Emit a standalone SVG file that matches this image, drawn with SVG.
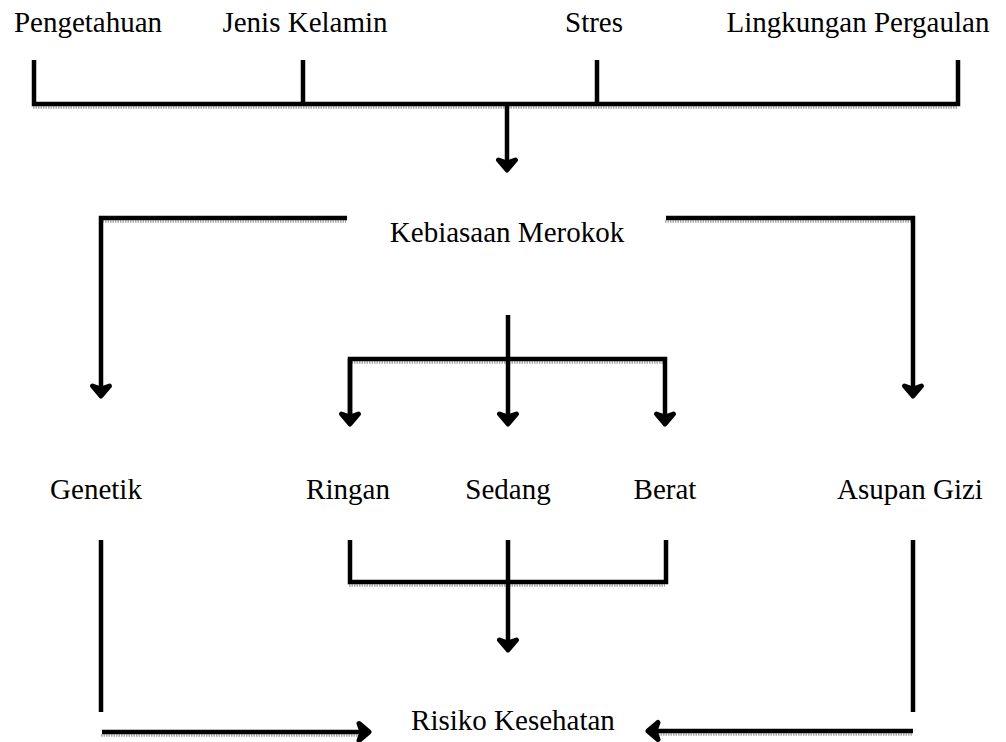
<svg xmlns="http://www.w3.org/2000/svg" width="1006" height="742" viewBox="0 0 1006 742">
<style>
text{font-family:"Liberation Serif","Times New Roman",serif;font-size:29px;fill:#000;text-anchor:middle}
.c{fill:none;stroke:#000;stroke-width:4.5;stroke-linejoin:miter}
.s{fill:none;stroke:#a8a8a8;stroke-width:2.5;stroke-dasharray:1.5 1}
</style>
<defs>
<marker id="ah" markerUnits="userSpaceOnUse" viewBox="-14 -12 18 24" refX="0" refY="0" markerWidth="18" markerHeight="24" orient="auto" overflow="visible">
<path d="M-10,-8.5 L0,0 L-10,8.5 L-7,0 Z" fill="#000" stroke="#000" stroke-width="5" stroke-linecap="round" stroke-linejoin="round"/>
</marker>
</defs>
<g id="connectors-shadow" transform="translate(-1,3.5)">
<path class="s" d="M34,104 H958"/>
<path class="s" d="M101,218 H347"/>
<path class="s" d="M666,218 H913"/>
<path class="s" d="M350,359 H665"/>
<path class="s" d="M350,582 H666"/>
<path class="s" d="M102,732 H366"/>
<path class="s" d="M913,731 H652"/>
</g>
<g id="connectors">
<path class="c" d="M34,60 V104 H958 V60"/>
<path class="c" d="M303,60 V104"/>
<path class="c" d="M597,60 V104"/>
<path class="c" d="M507,104 V170" marker-end="url(#ah)"/>
<path class="c" d="M347,218 H101 V396" marker-end="url(#ah)"/>
<path class="c" d="M666,218 H913 V396" marker-end="url(#ah)"/>
<path class="c" d="M508,315 V424" marker-end="url(#ah)"/>
<path class="c" d="M350,424 V359 H665 V424" marker-end="url(#ah)"/>
<path class="c" d="M350,359 V424" marker-end="url(#ah)"/>
<path class="c" d="M350,540 V582 H666 V540"/>
<path class="c" d="M508,540 V650" marker-end="url(#ah)"/>
<path class="c" d="M101,540 V712"/>
<path class="c" d="M913,540 V712"/>
<path class="c" d="M102,732 H369" marker-end="url(#ah)"/>
<path class="c" d="M913,731 H648" marker-end="url(#ah)"/>
</g>
<g id="n-pengetahuan"><text x="88" y="32">Pengetahuan</text></g>
<g id="n-jenis"><text x="305" y="32">Jenis Kelamin</text></g>
<g id="n-stres"><text x="594" y="32">Stres</text></g>
<g id="n-lingkungan"><text x="858" y="32">Lingkungan Pergaulan</text></g>
<g id="n-kebiasaan"><text x="507" y="242">Kebiasaan Merokok</text></g>
<g id="n-genetik"><text x="96" y="499">Genetik</text></g>
<g id="n-ringan"><text x="348" y="499">Ringan</text></g>
<g id="n-sedang"><text x="508" y="499">Sedang</text></g>
<g id="n-berat"><text x="665" y="499">Berat</text></g>
<g id="n-asupan"><text x="910" y="499">Asupan Gizi</text></g>
<g id="n-risiko"><text x="513" y="730">Risiko Kesehatan</text></g>
</svg>
